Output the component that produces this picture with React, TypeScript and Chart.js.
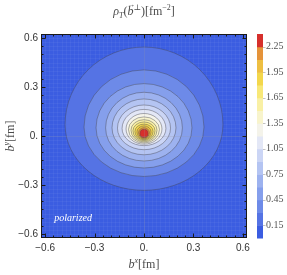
import React, { useEffect, useRef } from "react";
import { Chart, registerables } from "chart.js";

Chart.register(...registerables);

// Contour levels of the transverse density (fm^-2)
const levels = [0.15, 0.3, 0.45, 0.6, 0.75, 0.9, 1.05, 1.2, 1.35, 1.5, 1.65, 1.8, 1.95, 2.1, 2.25];
// Each contour: half-width in b^x, top and bottom in b^y, and b^y of widest row (fm)
const halfWidths = [0.479, 0.364, 0.291, 0.233, 0.194, 0.161, 0.133, 0.109, 0.094, 0.079, 0.067, 0.055, 0.043, 0.033, 0.025];
const tops = [0.545, 0.405, 0.321, 0.268, 0.227, 0.19, 0.163, 0.138, 0.117, 0.1, 0.086, 0.073, 0.062, 0.051, 0.041];
const bottoms = [-0.333, -0.248, -0.196, -0.153, -0.115, -0.084, -0.059, -0.05, -0.043, -0.036, -0.029, -0.023, -0.018, -0.013, -0.009];
const widestY = [0.07, 0.055, 0.05, 0.05, 0.05, 0.048, 0.046, 0.043, 0.04, 0.036, 0.032, 0.028, 0.024, 0.02, 0.016];
// Band colours: below first level, then above each level
const bandColors = [
  "#3b5de1", "#5573e4", "#6d8ae8", "#859fec", "#9db2ef", "#b4c4f2", "#cbd5f5", "#e3e7f6",
  "#f4f3ea", "#f8f4cc", "#f9f0a5", "#f8e878", "#f3d74c", "#eebf42", "#e5933a", "#d6302c",
];
const colorbarMax = 2.4;
const colorbarTicks = [0.15, 0.45, 0.75, 1.05, 1.35, 1.65, 1.95, 2.25];
const axisTicks = [-0.6, -0.3, 0, 0.3, 0.6];
const axisRange = [-0.625, 0.625];
const minorStep = 0.05;
const cornerLabel = "polarized";
const cornerLabelPos = [-0.545, -0.505];

const SERIF = "'Liberation Serif', 'DejaVu Serif', serif";
const SANS = "'Liberation Sans', Arial, sans-serif";

function fmtAxis(v: number) {
  if (Math.abs(v) < 1e-9) return "0.";
  const s = Math.abs(v).toFixed(1);
  return v < 0 ? "\u2212" + s : s;
}

type Run = { text: string; font: string; dy?: number; arrow?: boolean };

function drawRuns(ctx: CanvasRenderingContext2D, runs: Run[], cx: number, baseY: number) {
  let total = 0;
  const widths = runs.map((r) => {
    ctx.font = r.font;
    const w = ctx.measureText(r.text).width;
    total += w;
    return w;
  });
  let x = cx - total / 2;
  ctx.textBaseline = "alphabetic";
  ctx.textAlign = "left";
  runs.forEach((r, i) => {
    ctx.font = r.font;
    ctx.fillText(r.text, x, baseY + (r.dy || 0));
    if (r.arrow) {
      ctx.save();
      ctx.font = "8px " + SERIF;
      ctx.textAlign = "center";
      ctx.fillText("\u2192", x + widths[i] / 2 + 0.5, baseY - 8);
      ctx.restore();
    }
    x += widths[i];
  });
}

const contourPlugin = {
  id: "contours",
  beforeDatasetsDraw(chart: any) {
    const { ctx, chartArea: a, scales } = chart;
    const xs = scales.x;
    const ys = scales.y;
    ctx.save();
    ctx.beginPath();
    ctx.rect(a.left, a.top, a.right - a.left, a.bottom - a.top);
    ctx.clip();
    ctx.fillStyle = bandColors[0];
    ctx.fillRect(a.left, a.top, a.right - a.left, a.bottom - a.top);
    // faint mesh
    ctx.strokeStyle = "rgba(255,255,255,0.045)";
    ctx.lineWidth = 1;
    for (let v = -0.6; v <= 0.61; v += 0.025) {
      const px = Math.round(xs.getPixelForValue(v)) + 0.5;
      const py = Math.round(ys.getPixelForValue(v)) + 0.5;
      ctx.beginPath();
      ctx.moveTo(px, a.top);
      ctx.lineTo(px, a.bottom);
      ctx.moveTo(a.left, py);
      ctx.lineTo(a.right, py);
      ctx.stroke();
    }
    levels.forEach((lev, i) => {
      const cx = xs.getPixelForValue(0);
      const cy = ys.getPixelForValue(widestY[i]);
      const rx = xs.getPixelForValue(halfWidths[i]) - cx;
      const ryT = cy - ys.getPixelForValue(tops[i]);
      const ryB = ys.getPixelForValue(bottoms[i]) - cy;
      ctx.beginPath();
      ctx.ellipse(cx, cy, rx, ryT, 0, Math.PI, 2 * Math.PI);
      ctx.ellipse(cx, cy, rx, ryB, 0, 0, Math.PI);
      ctx.closePath();
      ctx.fillStyle = bandColors[i + 1];
      ctx.fill();
      ctx.strokeStyle = "rgba(70,70,80,0.55)";
      ctx.lineWidth = 0.8;
      ctx.stroke();
    });
    // faint axes through origin
    ctx.strokeStyle = "rgba(150,150,160,0.2)";
    ctx.lineWidth = 1;
    const ox = Math.round(xs.getPixelForValue(0)) + 0.5;
    const oy = Math.round(ys.getPixelForValue(0)) + 0.5;
    ctx.beginPath();
    ctx.moveTo(ox, a.top);
    ctx.lineTo(ox, a.bottom);
    ctx.moveTo(a.left, oy);
    ctx.lineTo(a.right, oy);
    ctx.stroke();
    // corner label
    ctx.fillStyle = "#ffffff";
    ctx.font = "italic 10px " + SERIF;
    ctx.textAlign = "left";
    ctx.textBaseline = "middle";
    ctx.fillText(cornerLabel, xs.getPixelForValue(cornerLabelPos[0]), ys.getPixelForValue(cornerLabelPos[1]));
    ctx.restore();
  },
  afterDatasetsDraw(chart: any) {
    const { ctx, chartArea: a, scales } = chart;
    const xs = scales.x;
    const ys = scales.y;
    const cs = scales.c;
    ctx.save();
    // frame
    ctx.strokeStyle = "#1a1a1a";
    ctx.lineWidth = 1;
    ctx.strokeRect(a.left + 0.5, a.top + 0.5, a.right - a.left - 1, a.bottom - a.top - 1);
    // inward ticks on all four sides
    for (let k = -12; k <= 12; k++) {
      const v = k * minorStep;
      const major = axisTicks.some((t) => Math.abs(t - v) < 1e-6);
      const len = major ? 4.5 : 2.5;
      const px = Math.round(xs.getPixelForValue(v)) + 0.5;
      const py = Math.round(ys.getPixelForValue(v)) + 0.5;
      ctx.beginPath();
      ctx.moveTo(px, a.bottom);
      ctx.lineTo(px, a.bottom - len);
      ctx.moveTo(px, a.top);
      ctx.lineTo(px, a.top + len);
      ctx.moveTo(a.left, py);
      ctx.lineTo(a.left + len, py);
      ctx.moveTo(a.right, py);
      ctx.lineTo(a.right - len, py);
      ctx.stroke();
    }
    // colour bar
    const bx = cs.left + 10;
    const bw = 6;
    for (let i = 0; i < bandColors.length; i++) {
      const lo = i === 0 ? 0 : levels[i - 1];
      const hi = i < levels.length ? levels[i] : colorbarMax;
      const y1 = cs.getPixelForValue(hi);
      const y0 = cs.getPixelForValue(lo);
      ctx.fillStyle = bandColors[i];
      ctx.fillRect(bx, y1, bw, y0 - y1 + 0.5);
    }
    ctx.strokeStyle = "rgba(120,120,120,0.45)";
    colorbarTicks.forEach((t) => {
      const py = Math.round(cs.getPixelForValue(t)) + 0.5;
      ctx.beginPath();
      ctx.moveTo(bx + bw, py);
      ctx.lineTo(bx + bw + 2.5, py);
      ctx.stroke();
    });
    ctx.restore();
  },
  afterDraw(chart: any) {
    const { ctx, chartArea: a } = chart;
    ctx.save();
    ctx.fillStyle = "#4a4a4a";
    const big = "12px " + SERIF;
    const bigI = "italic 12px " + SERIF;
    const small = "8px " + SERIF;
    const smallI = "italic 8px " + SERIF;
    drawRuns(
      ctx,
      [
        { text: "\u03C1", font: bigI },
        { text: "T", font: smallI, dy: 3 },
        { text: "(", font: big },
        { text: "b", font: bigI, arrow: true },
        { text: "\u22A5", font: small, dy: -5 },
        { text: ")[fm", font: big },
        { text: "\u22122", font: small, dy: -5 },
        { text: "]", font: big },
      ],
      (a.left + a.right) / 2,
      15
    );
    // x title
    drawRuns(
      ctx,
      [
        { text: "b", font: bigI },
        { text: "x", font: smallI, dy: -5 },
        { text: "[fm]", font: big },
      ],
      (a.left + a.right) / 2,
      268
    );
    // y title
    ctx.translate(14, (a.top + a.bottom) / 2);
    ctx.rotate(-Math.PI / 2);
    drawRuns(
      ctx,
      [
        { text: "b", font: bigI },
        { text: "y", font: smallI, dy: -5 },
        { text: "[fm]", font: big },
      ],
      0,
      0
    );
    ctx.restore();
  },
};

export default function App() {
  const ref = useRef<HTMLCanvasElement | null>(null);
  useEffect(() => {
    if (!ref.current) return;
    const chart = new Chart(ref.current, {
      type: "scatter",
      data: { datasets: [{ data: [], pointRadius: 0 }] },
      options: {
        animation: false,
        responsive: false,
        devicePixelRatio: 1,
        layout: { padding: { top: 34, left: 0, right: 0, bottom: 0 } },
        plugins: { legend: { display: false }, tooltip: { enabled: false }, title: { display: false } },
        scales: {
          x: {
            type: "linear",
            position: "bottom",
            min: axisRange[0],
            max: axisRange[1],
            afterBuildTicks: (s: any) => {
              s.ticks = axisTicks.map((v) => ({ value: v }));
            },
            afterFit: (s: any) => {
              s.height = 37;
            },
            grid: { display: false, drawTicks: false },
            border: { display: false },
            ticks: {
              autoSkip: false,
              maxRotation: 0,
              padding: 4,
              color: "#333",
              font: { family: SANS, size: 10 },
              callback: (v: any) => fmtAxis(Number(v)),
            },
          },
          y: {
            type: "linear",
            position: "left",
            min: axisRange[0],
            max: axisRange[1],
            afterBuildTicks: (s: any) => {
              s.ticks = axisTicks.map((v) => ({ value: v }));
            },
            afterFit: (s: any) => {
              s.width = 41;
            },
            grid: { display: false, drawTicks: false },
            border: { display: false },
            ticks: {
              autoSkip: false,
              padding: 3,
              color: "#333",
              font: { family: SANS, size: 10 },
              callback: (v: any) => fmtAxis(Number(v)),
            },
          },
          c: {
            type: "linear",
            position: "right",
            min: 0,
            max: colorbarMax,
            afterBuildTicks: (s: any) => {
              s.ticks = colorbarTicks.map((v) => ({ value: v }));
            },
            afterFit: (s: any) => {
              s.width = 40;
            },
            grid: { display: false, drawTicks: false },
            border: { display: false },
            ticks: {
              autoSkip: false,
              padding: 19,
              color: "#555",
              font: { family: SERIF, size: 10 },
              callback: (v: any) => Number(v).toFixed(2),
            },
          },
        },
      },
      plugins: [contourPlugin],
    } as any);
    return () => chart.destroy();
  }, []);
  return (
    <div style={{ position: "fixed", left: 0, top: 0, width: 287, height: 275, background: "#fff" }}>
      <canvas ref={ref} width={287} height={275} style={{ display: "block", width: 287, height: 275 }} />
    </div>
  );
}
